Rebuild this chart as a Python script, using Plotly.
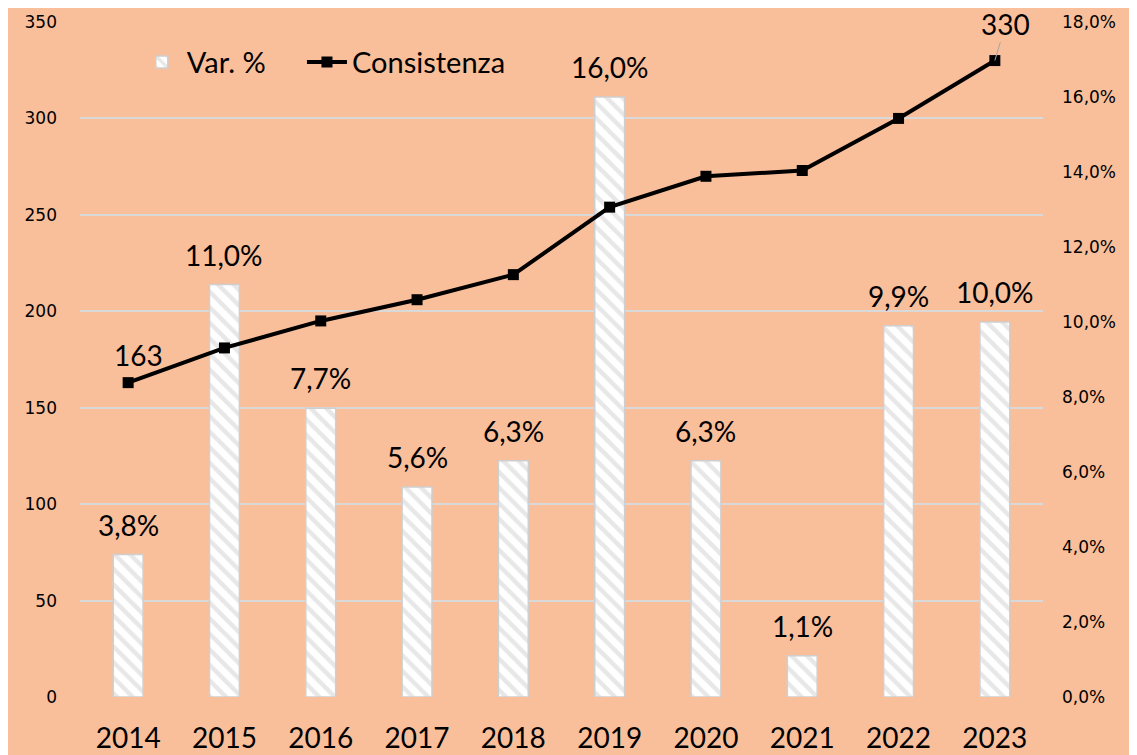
import plotly.graph_objects as go

years = ["2014", "2015", "2016", "2017", "2018", "2019", "2020", "2021", "2022", "2023"]
var_pct = [3.8, 11.0, 7.7, 5.6, 6.3, 16.0, 6.3, 1.1, 9.9, 10.0]
consistenza = [163, 181, 195, 206, 219, 254, 270, 273, 300, 330]
left_ticks = [0, 50, 100, 150, 200, 250, 300, 350]
right_ticks = [0, 2, 4, 6, 8, 10, 12, 14, 16, 18]

BG = "#F9BE9A"
GRID = "#D9D9D9"
xs = list(range(len(years)))

fig = go.Figure()
fig.add_trace(go.Bar(
    x=xs, y=var_pct, name="Var. %", yaxis="y", legend="legend",
    width=0.31,
    marker=dict(color="white", line=dict(color="#CFCFCF", width=1.5),
                pattern=dict(shape="\\", fgcolor="#D0D0D0", bgcolor="white", size=11, solidity=0.4)),
))
fig.add_trace(go.Scatter(
    x=xs, y=consistenza, name="Consistenza", yaxis="y2", legend="legend2",
    mode="lines+markers",
    line=dict(color="black", width=4),
    marker=dict(symbol="square", size=11, color="black"),
))

FONT = "Lato"
ann = []
for i, v in zip(xs, var_pct):
    ann.append(dict(x=i, y=v, xref="x", yref="y", text=f"{v:.1f}".replace(".", ",") + "%", showarrow=False,
                    yshift=30, font=dict(family=FONT, size=28, color="black")))
ann.append(dict(x=xs[0], y=consistenza[0], xref="x", yref="y2", text=str(consistenza[0]), showarrow=False,
                xshift=10, yshift=28, font=dict(family=FONT, size=28, color="black")))
ann.append(dict(x=xs[-1], y=consistenza[-1], xref="x", yref="y2", text=str(consistenza[-1]), showarrow=True,
                arrowhead=0, arrowwidth=1, arrowcolor="#A6A6A6", ax=11, ay=-37, standoff=0,
                font=dict(family=FONT, size=28, color="black")))

leg_common = dict(orientation="h", y=0.9407, yanchor="middle", xanchor="left",
                  bgcolor="rgba(0,0,0,0)", font=dict(family=FONT, size=29, color="black"),
                  itemwidth=40)

fig.update_layout(
    width=1129, height=747,
    paper_bgcolor=BG, plot_bgcolor=BG,
    margin=dict(l=72, r=94, t=14, b=58, autoexpand=False),
    showlegend=True,
    legend=dict(x=0.059, **leg_common),
    legend2=dict(x=0.2305, **leg_common),
    xaxis=dict(range=[-0.5, 9.5], tickvals=xs, ticktext=years, showgrid=False, showline=False, zeroline=False,
               automargin=False,
               tickfont=dict(family=FONT, size=28, color="black"), ticklabelstandoff=22),
    yaxis=dict(side="right", range=[0, 18], tickvals=right_ticks, automargin=False,
               ticktext=[f"{t:.1f}".replace(".", ",") + "%" for t in right_ticks],
               showgrid=False, zeroline=False, showline=False,
               tickfont=dict(family="DejaVu Sans", size=17, color="black"), ticklabelstandoff=18),
    yaxis2=dict(side="left", overlaying="y", anchor="x", range=[0, 350], tickvals=left_ticks,
                automargin=False,
                showgrid=True, gridcolor=GRID, gridwidth=1.5, zeroline=False, showline=False,
                tickfont=dict(family="DejaVu Sans", size=17, color="black"), ticklabelstandoff=22),
    annotations=ann,
)

fig.write_html("out.html")
